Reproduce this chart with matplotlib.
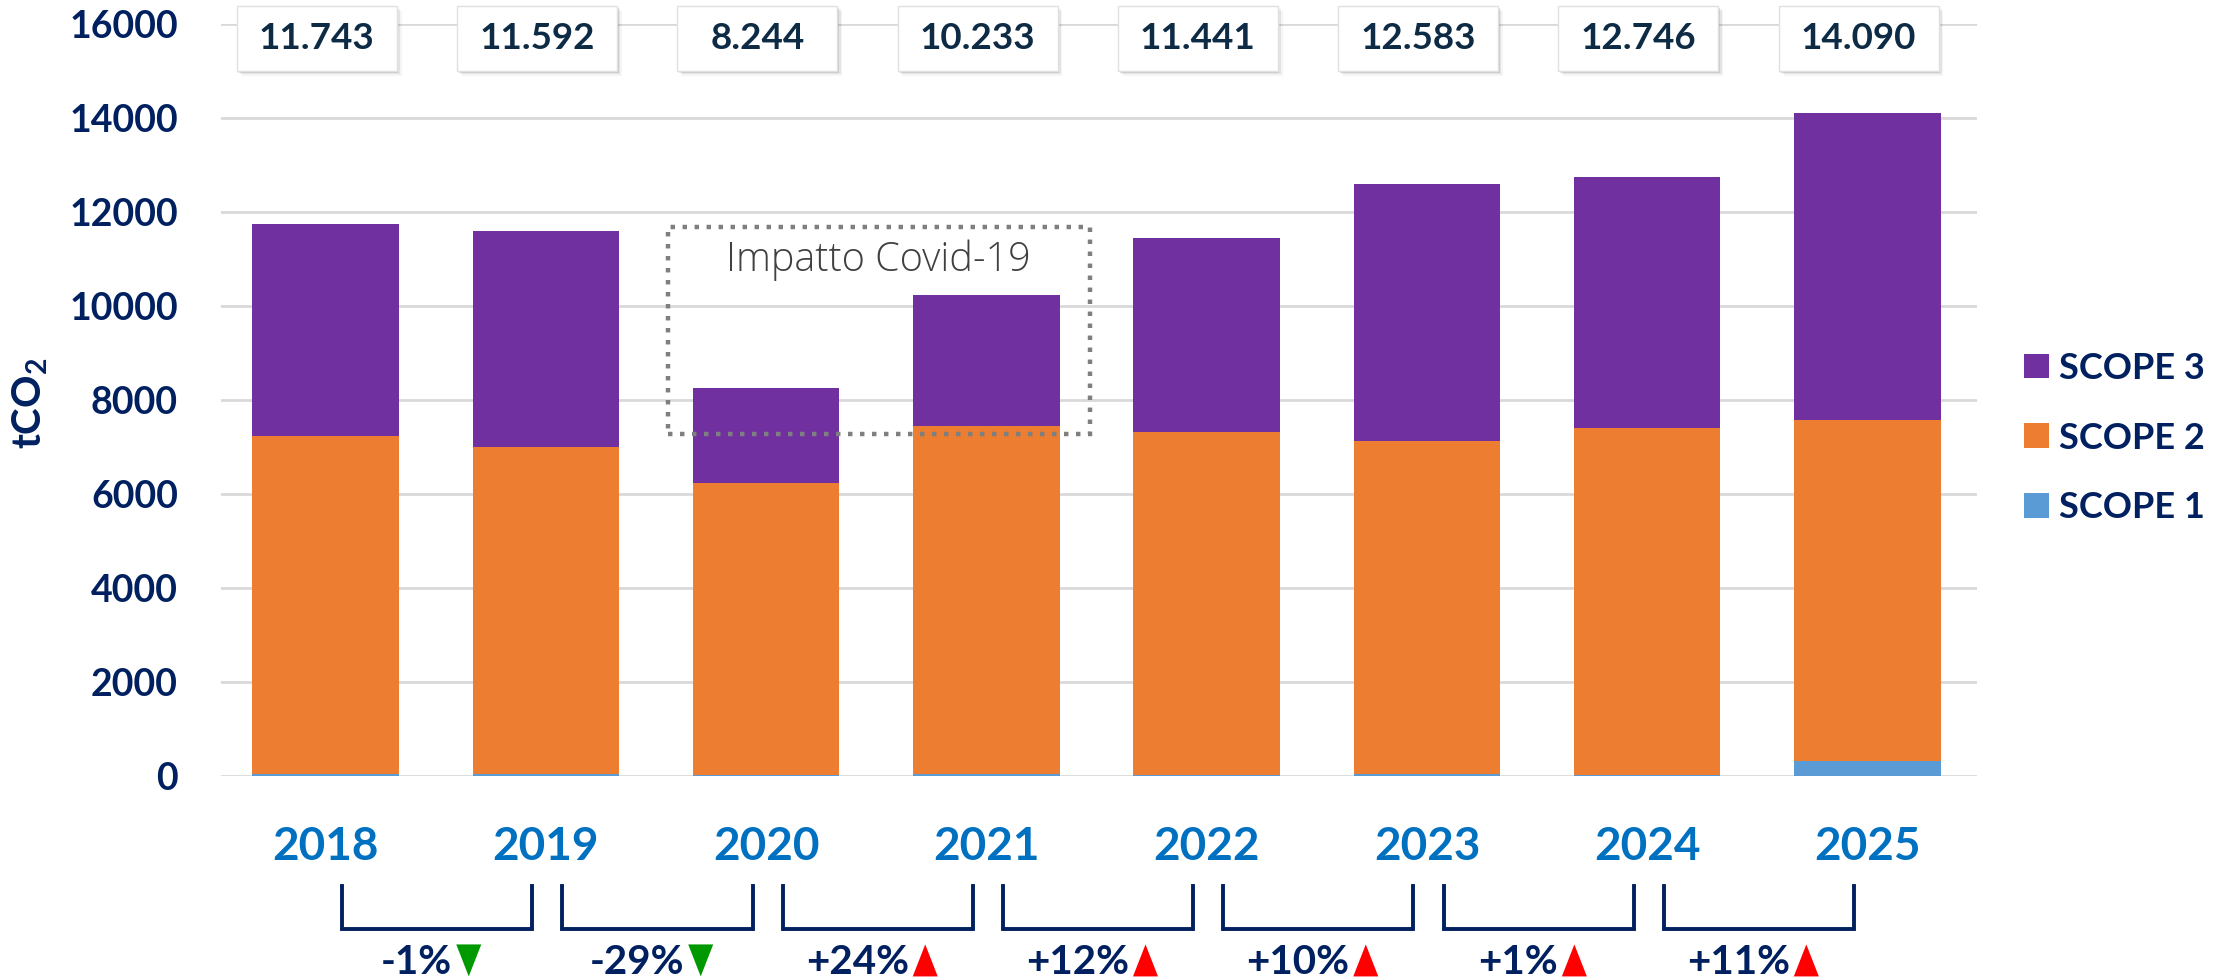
import matplotlib
matplotlib.use("Agg")
import matplotlib.pyplot as plt
import matplotlib.transforms as mtransforms
from matplotlib.patches import Rectangle, Polygon
import numpy as np

# ---------------- data ----------------
years = ['2018', '2019', '2020', '2021', '2022', '2023', '2024', '2025']
totals = [11743, 11592, 8244, 10233, 11441, 12583, 12746, 14090]
scope1 = [35, 35, 10, 35, 10, 35, 10, 313]
scope2 = [7193, 6959, 6218, 7405, 7296, 7080, 7381, 7249]
scope3 = [4515, 4598, 2016, 2793, 4135, 5468, 5355, 6528]
total_labels = ['11.743', '11.592', '8.244', '10.233', '11.441', '12.583', '12.746', '14.090']
pct_labels = ['-1%', '-29%', '+24%', '+12%', '+10%', '+1%', '+11%']
pct_up = [False, False, True, True, True, True, True]
yticks = [0, 2000, 4000, 6000, 8000, 10000, 12000, 14000, 16000]
covid_note = 'Impatto Covid-19'

# ---------------- style ----------------
C_S1 = '#5B9BD5'
C_S2 = '#ED7D31'
C_S3 = '#7030A0'
NAVY = '#002060'
BLUE = '#0070C0'
BOXTXT = '#0E2B45'
GRID = '#D9D9D9'
FONT = 'Lato'

W, H = 2234, 980
fig = plt.figure(figsize=(W / 100, H / 100), dpi=100)
ax = fig.add_axes([221 / W, 1 - 775.7 / H, (1977 - 221) / W, (775.7 - 23.7) / H])

x = np.arange(len(years))
bw = 0.665
s1 = np.array(scope1)
s2 = np.array(scope2)
s3 = np.array(scope3)
b1 = ax.bar(x, s1, bw, color=C_S1, label='SCOPE 1', zorder=3)
b2 = ax.bar(x, s2, bw, bottom=s1, color=C_S2, label='SCOPE 2', zorder=3)
b3 = ax.bar(x, s3, bw, bottom=s1 + s2, color=C_S3, label='SCOPE 3', zorder=3)

ax.set_xlim(-0.475, 7.497)
ax.set_ylim(0, 16000)
ax.set_yticks(yticks)
ax.yaxis.grid(True, color=GRID, lw=2.0, zorder=0)
ax.set_axisbelow(True)
for sp in ax.spines.values():
    sp.set_visible(False)
ax.set_xticks(x)
ax.set_xticklabels(years, fontsize=33, fontweight='bold', color=BLUE, family=FONT)
ax.tick_params(axis='x', length=0, pad=36)
ax.tick_params(axis='y', length=0, pad=31)
for t in ax.get_yticklabels():
    t.set_fontsize(27)
    t.set_fontweight('bold')
    t.set_color(NAVY)
    t.set_family(FONT)

plt.rcParams['mathtext.fontset'] = 'custom'
plt.rcParams['mathtext.bf'] = 'Lato:bold'
plt.rcParams['mathtext.rm'] = 'Lato:bold'
fig.text(31 / W, 1 - 403 / H, r'$\mathbf{tCO_2}$', rotation=90, ha='center', va='center',
         fontsize=29, color=NAVY)

# ---------------- covid dotted box ----------------
rect = Rectangle((2 - 0.446, 7270), 3.469 - (2 - 0.446), 11674 - 7270, fill=False,
                 edgecolor='#7F7F7F', lw=3.2, linestyle=(0, (1, 1.7)), zorder=4,
                 capstyle='butt', joinstyle='miter')
ax.add_patch(rect)
ax.text((2 - 0.446 + 3.469) / 2, 10960, covid_note, ha='center', va='center',
        fontsize=28.5, color='#404040', family='Open Sans', fontweight='light', zorder=5)

# ---------------- top value boxes ----------------
bt = mtransforms.blended_transform_factory(ax.transData, fig.transFigure)
boxw = 0.726
by0, by1 = 1 - 71 / H, 1 - 6 / H
for i, lab in enumerate(total_labels):
    cx = x[i] - 0.04
    for k, a in enumerate([0.10, 0.07, 0.04]):
        off = (k + 1) * 1.6
        sh = Rectangle((cx - boxw / 2 + off / 220.3, by0 - off / H), boxw, by1 - by0,
                       transform=bt, facecolor='#000000', alpha=a, edgecolor='none',
                       clip_on=False, zorder=5)
        fig.add_artist(sh)
    bx = Rectangle((cx - boxw / 2, by0), boxw, by1 - by0, transform=bt,
                   facecolor='white', edgecolor='#E0E0E0', lw=1, clip_on=False, zorder=6)
    fig.add_artist(bx)
    fig.text(cx, (by0 + by1) / 2, lab, transform=bt, ha='center', va='center',
             fontsize=26.5, fontweight='bold', color=BOXTXT, family=FONT, zorder=7)

# ---------------- brackets ----------------
ytop, ybot = 1 - 886 / H, 1 - 929 / H
ytext = 1 - 962 / H
tri_w, tri_h, gap = 25, 32, 4
pct_texts = []
for i in range(len(pct_labels)):
    xa = x[i] + 0.075
    xb = x[i + 1] - 0.062
    ln = plt.Line2D([xa, xa, xb, xb], [ytop, ybot, ybot, ytop], transform=bt,
                    color=NAVY, lw=2.8, clip_on=False, solid_joinstyle='miter')
    fig.add_artist(ln)
    xc = (xa + xb) / 2
    off = mtransforms.ScaledTranslation(-(tri_w + gap) / 2 / 100 - 0.06, 0, fig.dpi_scale_trans)
    t = fig.text(xc, ytext, pct_labels[i], transform=bt + off, ha='center', va='center',
                 fontsize=29, fontweight='bold', color=NAVY, family=FONT)
    pct_texts.append(t)

fig.canvas.draw()
renderer = fig.canvas.get_renderer()
for i, t in enumerate(pct_texts):
    bb = t.get_window_extent(renderer)
    x0 = bb.x1 + gap
    ybase = bb.y0 + 0.11 * bb.height
    if pct_up[i]:
        verts = [(x0, ybase), (x0 + tri_w, ybase), (x0 + tri_w / 2, ybase + tri_h)]
        col = '#FF0000'
    else:
        verts = [(x0, ybase + tri_h), (x0 + tri_w, ybase + tri_h), (x0 + tri_w / 2, ybase)]
        col = '#009900'
    verts = [(vx / W, vy / H) for vx, vy in verts]
    fig.add_artist(Polygon(verts, closed=True, transform=fig.transFigure,
                           facecolor=col, edgecolor='none'))

# ---------------- legend ----------------
leg = ax.legend(handles=[b3, b2, b1], loc='center left',
                bbox_to_anchor=(2024 / W, 1 - 438 / H), bbox_transform=fig.transFigure,
                frameon=False, handlelength=0.68, handleheight=0.68, handletextpad=0.3,
                borderpad=0, borderaxespad=0, labelspacing=1.02,
                prop={'family': FONT, 'weight': 'bold', 'size': 26})
for txt in leg.get_texts():
    txt.set_color(NAVY)

fig.savefig('out.png', dpi=100, facecolor='white')
